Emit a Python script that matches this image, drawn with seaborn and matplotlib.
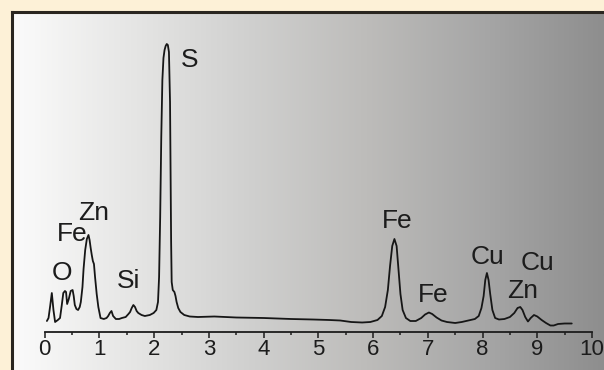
import numpy as np
import matplotlib
matplotlib.use("Agg")
import matplotlib.pyplot as plt
import seaborn as sns

# EDS spectrum: energy (keV) and intensity (arbitrary counts)
energy_kev = [
    0.04, 0.07, 0.10, 0.13, 0.16, 0.19, 0.24, 0.28, 0.31, 0.34, 0.37, 0.39,
    0.41, 0.44, 0.475, 0.51, 0.53, 0.55, 0.58, 0.61, 0.64, 0.66, 0.69, 0.71,
    0.74, 0.77, 0.80, 0.82, 0.84, 0.86, 0.88, 0.90, 0.92, 0.95, 0.98, 1.02,
    1.08, 1.13, 1.16, 1.19, 1.22, 1.25, 1.30, 1.36, 1.41, 1.48, 1.53, 1.56,
    1.59, 1.62, 1.65, 1.68, 1.71, 1.77, 1.83, 1.92, 1.99, 2.04, 2.07, 2.09,
    2.11, 2.13, 2.15, 2.17, 2.19, 2.21, 2.23, 2.25, 2.27, 2.29, 2.30, 2.31,
    2.32, 2.34, 2.37, 2.39, 2.41, 2.44, 2.48, 2.55, 2.65, 2.80, 3.10, 3.50,
    4.00, 4.50, 4.90, 5.20, 5.40, 5.60, 5.80, 5.95, 6.08, 6.16, 6.22, 6.27,
    6.31, 6.35, 6.39, 6.43, 6.46, 6.50, 6.54, 6.60, 6.68, 6.78, 6.88, 6.95,
    7.02, 7.08, 7.16, 7.25, 7.35, 7.50, 7.62, 7.74, 7.86, 7.93, 7.98, 8.02,
    8.05, 8.08, 8.11, 8.14, 8.18, 8.23, 8.30, 8.40, 8.50, 8.58, 8.64, 8.69,
    8.73, 8.78, 8.83, 8.88, 8.94, 9.00, 9.08, 9.16, 9.24, 9.30, 9.38, 9.50,
    9.63,
]
counts = [
    11, 14, 26, 39, 22, 10, 12, 14, 26, 39, 41, 40,
    28, 33, 41, 42, 36, 27, 23, 22, 25, 30, 45, 63,
    82, 93, 97, 92, 84, 77, 71, 68, 55, 38, 25, 14,
    13, 14, 16, 19, 21, 16, 13, 13, 14, 15, 18, 20,
    24, 27, 25, 21, 19, 17, 16, 17, 19, 22, 30, 55,
    115, 195, 252, 274, 282, 286, 288, 287, 280, 230, 160, 90,
    50, 42, 40, 36, 30, 24, 20, 17, 15.5, 15, 15.5, 14.5,
    14, 13, 12.5, 12, 11.5, 10, 9.5, 10, 12, 16, 25, 42,
    66, 86, 93, 86, 66, 38, 22, 14, 11, 11, 14, 17.5,
    19.5, 18, 14.5, 11.5, 10, 9, 10, 11.5, 13, 16, 24, 36,
    52, 59, 52, 38, 22, 14, 12.5, 13, 15, 19, 24, 25,
    22, 15, 10.5, 14, 17, 15.5, 12, 9, 6.5, 6.5, 8, 8.5,
    8.5,
]

# Element labels and where they sit (keV, intensity)
peak_labels = ["O", "Fe", "Zn", "Si", "S", "Fe", "Fe", "Cu", "Zn", "Cu"]
label_kev = [0.31, 0.50, 0.89, 1.54, 2.64, 6.44, 7.10, 8.09, 8.73, 9.00]
label_counts = [59, 98, 119, 51, 272, 111, 37, 75, 41, 69]

tick_values = list(range(0, 11))

sns.set_theme(style="white")
plt.rcParams["font.family"] = ["Liberation Sans Narrow", "Liberation Sans", "DejaVu Sans"]

W, H = 604, 370
fig = plt.figure(figsize=(W / 100, H / 100), dpi=100)
fig.patch.set_facecolor("#fdf1d7")

# Framed panel with a white-to-grey horizontal gradient
panel = fig.add_axes([12 / W, 0, (W - 12) / W, (H - 12) / H])
grad = np.linspace(0, 1, 256)[None, :]
cmap = matplotlib.colors.LinearSegmentedColormap.from_list(
    "panel", ["#fbfbfb", "#e6e6e5", "#d0d0cf", "#bdbcba", "#a6a6a6", "#8e8e8e"]
)
panel.imshow(grad, aspect="auto", cmap=cmap, extent=[0, 1, 0, 1])
panel.set_xlim(0, 1)
panel.set_ylim(0, 1)
panel.set_xticks([])
panel.set_yticks([])
for side in ("right", "bottom"):
    panel.spines[side].set_visible(False)
for side in ("left", "top"):
    panel.spines[side].set_color("#2a2620")
    panel.spines[side].set_linewidth(2.2)

# Spectrum axes: one data unit of intensity equals one pixel
x0_px, x10_px, axis_py, top_py = 44.7, 592.0, 332.0, 40.0
ax = fig.add_axes([x0_px / W, (H - axis_py) / H, (x10_px - x0_px) / W, (axis_py - top_py) / H])
ax.set_facecolor("none")
ax.set_xlim(0, 10)
ax.set_ylim(0, axis_py - top_py)

sns.lineplot(x=energy_kev, y=counts, ax=ax, color="#161616", linewidth=1.3)

for lab, xk, yc in zip(peak_labels, label_kev, label_counts):
    ax.text(xk, yc, lab, ha="center", va="center", fontsize=19, color="#1c1c1c")

for side in ("left", "right", "top"):
    ax.spines[side].set_visible(False)
ax.spines["bottom"].set_bounds(0, 10)
ax.spines["bottom"].set_color("#1c1c1c")
ax.spines["bottom"].set_linewidth(1.3)
ax.set_yticks([])
ax.set_xticks(tick_values)
ax.set_xticklabels([str(t) for t in tick_values])
ax.set_xticks(np.arange(0.5, 10, 1.0), minor=True)
ax.tick_params(axis="x", which="major", direction="out", length=4.5, width=1.1,
               color="#1c1c1c", labelsize=16, labelcolor="#1c1c1c", pad=0.5, bottom=True)
ax.tick_params(axis="x", which="minor", direction="out", length=2.5, width=1.1,
               color="#1c1c1c", bottom=True)
ax.set_xlabel("")
ax.set_ylabel("")

fig.savefig("out.png", dpi=100, facecolor=fig.get_facecolor())
